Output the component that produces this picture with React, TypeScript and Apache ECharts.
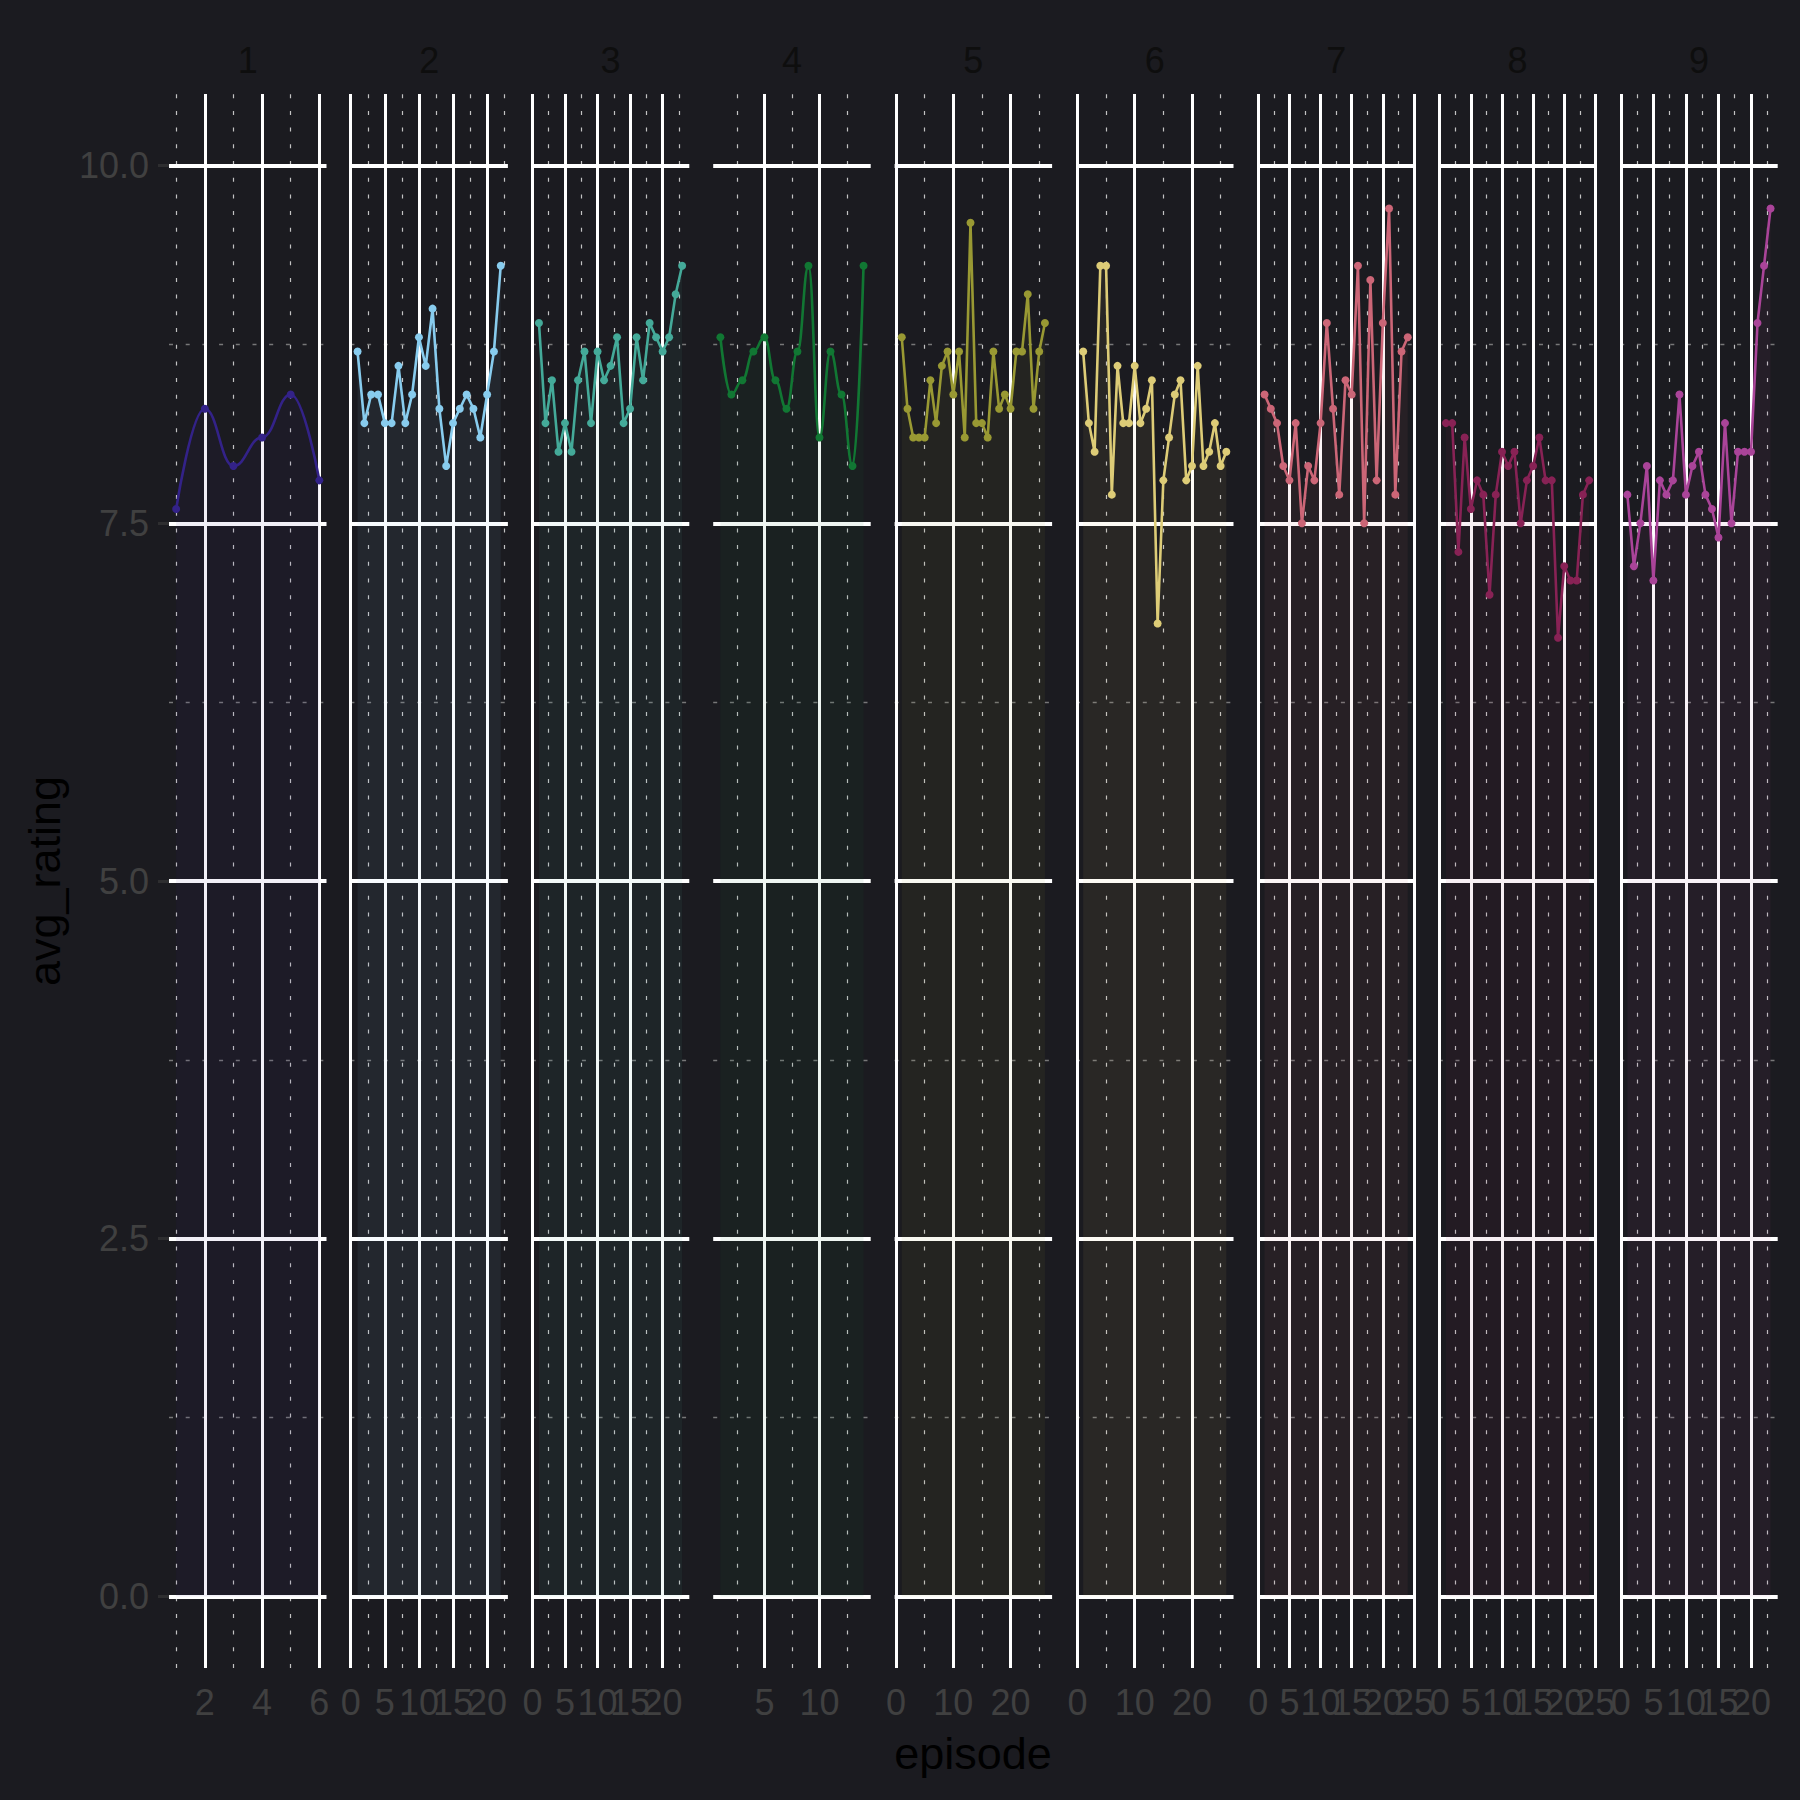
import React, { useEffect, useRef } from "react";
import * as echarts from "echarts";

// ---- data ----
const seasons = ["1", "2", "3", "4", "5", "6", "7", "8", "9"];
const season1 = [7.6, 8.3, 7.9, 8.1, 8.4, 7.8];
const season2 = [8.7, 8.2, 8.4, 8.4, 8.2, 8.2, 8.6, 8.2, 8.4, 8.8, 8.6, 9.0, 8.3, 7.9, 8.2, 8.3, 8.4, 8.3, 8.1, 8.4, 8.7, 9.3];
const season3 = [8.9, 8.2, 8.5, 8.0, 8.2, 8.0, 8.5, 8.7, 8.2, 8.7, 8.5, 8.6, 8.8, 8.2, 8.3, 8.8, 8.5, 8.9, 8.8, 8.7, 8.8, 9.1, 9.3];
const season4 = [8.8, 8.4, 8.5, 8.7, 8.8, 8.5, 8.3, 8.7, 9.3, 8.1, 8.7, 8.4, 7.9, 9.3];
const season5 = [8.8, 8.3, 8.1, 8.1, 8.1, 8.5, 8.2, 8.6, 8.7, 8.4, 8.7, 8.1, 9.6, 8.2, 8.2, 8.1, 8.7, 8.3, 8.4, 8.3, 8.7, 8.7, 9.1, 8.3, 8.7, 8.9];
const season6 = [8.7, 8.2, 8.0, 9.3, 9.3, 7.7, 8.6, 8.2, 8.2, 8.6, 8.2, 8.3, 8.5, 6.8, 7.8, 8.1, 8.4, 8.5, 7.8, 7.9, 8.6, 7.9, 8.0, 8.2, 7.9, 8.0];
const season7 = [8.4, 8.3, 8.2, 7.9, 7.8, 8.2, 7.5, 7.9, 7.8, 8.2, 8.9, 8.3, 7.7, 8.5, 8.4, 9.3, 7.5, 9.2, 7.8, 8.9, 9.7, 7.7, 8.7, 8.8];
const season8 = [8.2, 8.2, 7.3, 8.1, 7.6, 7.8, 7.7, 7.0, 7.7, 8.0, 7.9, 8.0, 7.5, 7.8, 7.9, 8.1, 7.8, 7.8, 6.7, 7.2, 7.1, 7.1, 7.7, 7.8];
const season9 = [7.7, 7.2, 7.5, 7.9, 7.1, 7.8, 7.7, 7.8, 8.4, 7.7, 7.9, 8.0, 7.7, 7.6, 7.4, 8.2, 7.5, 8.0, 8.0, 8.0, 8.9, 9.3, 9.7];
const ratings = [season1, season2, season3, season4, season5, season6, season7, season8, season9];

const xMin = [0.75, -0.05, -0.1, 0.35, -0.25, -0.25, -0.15, -0.15, -0.1];
const xMax = [6.25, 23.05, 24.1, 14.65, 27.25, 27.25, 25.15, 25.15, 24.1];
const xMajor = [
  [2, 4, 6],
  [0, 5, 10, 15, 20],
  [0, 5, 10, 15, 20],
  [5, 10],
  [0, 10, 20],
  [0, 10, 20],
  [0, 5, 10, 15, 20, 25],
  [0, 5, 10, 15, 20, 25],
  [0, 5, 10, 15, 20],
];
const xMinor = [
  [1, 3, 5],
  [2.5, 7.5, 12.5, 17.5, 22.5],
  [2.5, 7.5, 12.5, 17.5, 22.5],
  [2.5, 7.5, 12.5],
  [5, 15, 25],
  [5, 15, 25],
  [2.5, 7.5, 12.5, 17.5, 22.5],
  [2.5, 7.5, 12.5, 17.5, 22.5],
  [2.5, 7.5, 12.5, 17.5, 22.5],
];
const yMajor = [0, 2.5, 5, 7.5, 10];
const yMinor = [1.25, 3.75, 6.25, 8.75];

const colors = ["#332288", "#88CCEE", "#44AA99", "#117733", "#999933", "#DDCC77", "#CC6677", "#882255", "#AA4499"];
const smoothed = [true, false, false, true, false, false, false, false, false];

// ---- layout / style ----
const BG = "#1b1b20";
const FONT = "Liberation Sans, Arial, Helvetica, sans-serif";
const GRID_LEFT0 = 169;
const GRID_STEP = 181.4;
const GRID_W = 157.5;
const GRID_TOP = 94;
const GRID_H = 1574;
const TICK_COLOR = "#2e2e30";
const LABEL_COLOR = "#404040";

function rgba(hex: string, a: number) {
  const n = parseInt(hex.slice(1), 16);
  return `rgba(${(n >> 16) & 255},${(n >> 8) & 255},${n & 255},${a})`;
}

function xAxisFor(i: number, labels: number[], withTicks: boolean) {
  return {
    type: "value",
    gridIndex: i,
    position: "bottom",
    offset: 0,
    min: xMin[i],
    max: xMax[i],
    axisLine: { show: false },
    splitLine: { show: false },
    axisTick: withTicks
      ? { show: true, customValues: xMajor[i], length: 11, lineStyle: { color: TICK_COLOR, width: 3 } }
      : { show: false },
    axisLabel: {
      show: labels.length > 0,
      customValues: labels.length ? labels : [xMajor[i][0]],
      color: LABEL_COLOR,
      fontSize: 36,
      fontFamily: FONT,
      margin: 16,
      hideOverlap: false,
      showMinLabel: true,
      showMaxLabel: true,
      formatter: (v: number) => String(v),
    },
  };
}

function buildOption() {
  const grids: any[] = [];
  const xAxes: any[] = [];
  const yAxes: any[] = [];
  const series: any[] = [];
  const graphics: any[] = [];

  seasons.forEach((s, i) => {
    const left = GRID_LEFT0 + i * GRID_STEP;
    grids.push({ left, top: GRID_TOP, width: GRID_W, height: GRID_H });
    // Labels split over two coincident axes so that neighbouring labels may overlap as in the reference
    const evenLabels = xMajor[i].filter((_, k) => k % 2 === 0);
    const oddLabels = xMajor[i].filter((_, k) => k % 2 === 1);
    xAxes.push(xAxisFor(i, evenLabels, true));
    xAxes.push(xAxisFor(i, oddLabels, false));
    yAxes.push({
      type: "value",
      gridIndex: i,
      min: -0.5,
      max: 10.5,
      axisLine: { show: false },
      splitLine: { show: false },
      axisTick: i === 0
        ? { show: true, customValues: yMajor, length: 11, lineStyle: { color: TICK_COLOR, width: 3 } }
        : { show: false },
      axisLabel: i === 0
        ? {
            show: true,
            customValues: yMajor,
            color: LABEL_COLOR,
            fontSize: 36,
            fontFamily: FONT,
            margin: 20,
            showMinLabel: true,
            showMaxLabel: true,
            formatter: (v: number) => v.toFixed(1),
          }
        : { show: false },
    });

    const minorV = { color: "rgba(225,225,225,0.85)", width: 1.2, type: [4, 12.7] };
    const minorH = { color: "rgba(130,130,130,0.9)", width: 1.4, type: [4, 12.7] };
    const majorV = { color: "#ffffff", width: 3, type: "solid" };
    const majorH = { color: "#ffffff", width: 4, type: "solid" };
    const lines: any[] = [];
    xMinor[i].forEach((v) => lines.push({ xAxis: v, lineStyle: minorV }));
    yMinor.forEach((v) => lines.push({ yAxis: v, lineStyle: minorH }));
    xMajor[i].forEach((v) => lines.push({ xAxis: v, lineStyle: majorV }));
    yMajor.forEach((v) => lines.push({ yAxis: v, lineStyle: majorH }));

    const c = colors[i];
    series.push({
      type: "line",
      name: s,
      xAxisIndex: 2 * i,
      yAxisIndex: i,
      data: ratings[i].map((r, k) => [k + 1, r]),
      smooth: smoothed[i] ? 0.45 : false,
      smoothMonotone: smoothed[i] ? "x" : undefined,
      symbol: "circle",
      symbolSize: 8,
      showSymbol: true,
      lineStyle: { color: c, width: 2.6 },
      itemStyle: { color: c },
      areaStyle: { color: rgba(c, 0.1) },
      z: 2,
      silent: true,
      markLine: {
        silent: true,
        z: 1,
        symbol: ["none", "none"],
        label: { show: false },
        emphasis: { disabled: true },
        data: lines,
      },
    });

    graphics.push({
      type: "text",
      x: left + GRID_W / 2,
      y: 60,
      style: {
        text: s,
        fontSize: 36,
        fontFamily: FONT,
        fill: "#0e0e0e",
        textAlign: "center",
        textVerticalAlign: "middle",
      },
    });
  });

  graphics.push({
    type: "text",
    x: 973,
    y: 1753,
    style: {
      text: "episode",
      fontSize: 45,
      fontFamily: FONT,
      fill: "#000000",
      textAlign: "center",
      textVerticalAlign: "middle",
    },
  });
  graphics.push({
    type: "text",
    x: 44,
    y: 881,
    rotation: Math.PI / 2,
    style: {
      text: "avg_rating",
      fontSize: 45,
      fontFamily: FONT,
      fill: "#000000",
      textAlign: "center",
      textVerticalAlign: "middle",
    },
  });

  return {
    animation: false,
    backgroundColor: BG,
    grid: grids,
    xAxis: xAxes,
    yAxis: yAxes,
    series,
    graphic: graphics,
  };
}

export default function App() {
  const ref = useRef<HTMLDivElement>(null);
  useEffect(() => {
    const chart = echarts.init(ref.current!, null, { renderer: "svg" });
    chart.setOption(buildOption() as any);
    return () => chart.dispose();
  }, []);
  return (
    <div
      ref={ref}
      style={{ position: "fixed", left: 0, top: 0, width: 1800, height: 1800 }}
    />
  );
}
